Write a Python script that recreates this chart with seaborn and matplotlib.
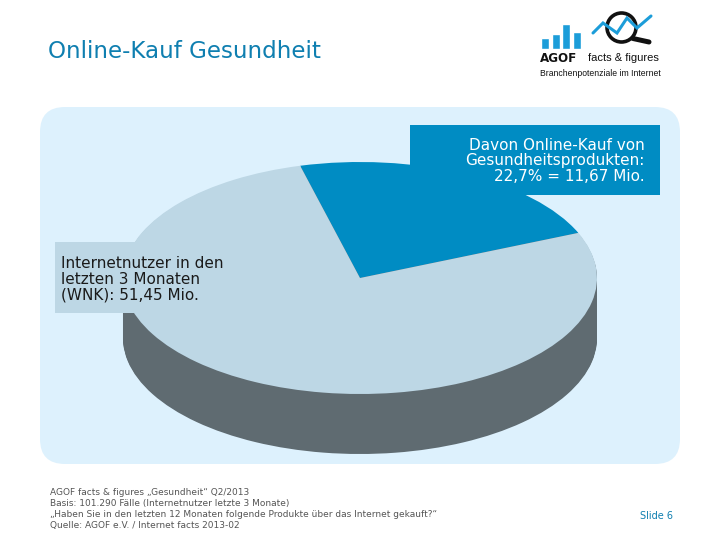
import matplotlib
matplotlib.use("Agg")
import matplotlib.pyplot as plt
from matplotlib.patches import FancyBboxPatch, Rectangle, Circle
import seaborn as sns

# --- data ---
slice_labels = ["Online-Kauf Gesundheit", "Andere Internetnutzer"]
slice_values = [22.7, 77.3]
logo_bars = [11, 15, 25, 17]
logo_line_x = [593, 603, 617, 627, 637, 651]
logo_line_y = [33, 23, 33, 18, 28, 16]

title = "Online-Kauf Gesundheit"
label_top = "Davon Online-Kauf von\nGesundheitsprodukten:\n22,7% = 11,67 Mio."
label_left = "Internetnutzer in den\nletzten 3 Monaten\n(WNK): 51,45 Mio."
footer = ("AGOF facts & figures „Gesundheit“ Q2/2013\n"
          "Basis: 101.290 Fälle (Internetnutzer letzte 3 Monate)\n"
          "„Haben Sie in den letzten 12 Monaten folgende Produkte über das Internet gekauft?“\n"
          "Quelle: AGOF e.V. / Internet facts 2013-02")
slide = "Slide 6"

# colours
PANEL = "#DDF1FD"
BLUE = "#008CC3"
PALE = "#BDD7E5"
DARK = "#5F6B71"
TITLE = "#0F7FB0"
GREY = "#555555"

sns.set_theme(style="white")
plt.rcParams["font.family"] = ["DejaVu Sans"]

W, H = 720, 540
fig = plt.figure(figsize=(7.2, 5.4), dpi=100, facecolor="white")


def px_axes(zorder):
    a = fig.add_axes([0, 0, 1, 1], zorder=zorder)
    a.set_xlim(0, W)
    a.set_ylim(H, 0)
    a.axis("off")
    a.patch.set_alpha(0)
    return a


# background: panel, title, footer, logo
bg = px_axes(0)
bg.add_patch(FancyBboxPatch((65, 132), 590, 307, boxstyle="round,pad=0,rounding_size=25",
                            mutation_aspect=1, fc=PANEL, ec="none", lw=0))
bg.add_patch(FancyBboxPatch((40 + 25, 107 + 25), 640 - 50, 357 - 50,
                            boxstyle="round,pad=25,rounding_size=25", fc=PANEL, ec="none", lw=0))
bg.text(48, 52, title, fontsize=16.6, color=TITLE, va="center", ha="left")
bg.text(50, 488, footer, fontsize=6.45, color=GREY, va="top", ha="left", linespacing=1.27)
bg.text(673, 516, slide, fontsize=7, color=TITLE, va="center", ha="right")

# logo
bg.plot(logo_line_x, logo_line_y, color="#1C9DD9", lw=2.2, solid_joinstyle="miter")
bg.add_patch(Circle((621.5, 27.5), 14.5, fc="none", ec="#111111", lw=2.6))
bg.plot([632, 650], [38, 42.5], color="white", lw=0)
bg.plot([633, 649], [38.5, 42], color="#111111", lw=3.6, solid_capstyle="round")
bg.text(540, 58, "AGOF", fontsize=8.6, fontweight="bold", color="#111111", va="center")
bg.text(588, 58, "facts & figures", fontsize=8, color="#111111", va="center",
        family="Liberation Sans")
bg.text(540.5, 73, "Branchenpotenziale im Internet", fontsize=6.2, color="#111111",
        va="center", family="Liberation Sans")

logo_ax = fig.add_axes([540 / W, 1 - 49 / H, 42 / W, 25 / H], zorder=1)
sns.barplot(x=list(range(len(logo_bars))), y=logo_bars, color="#1C9DD9", saturation=1,
            width=0.8, ax=logo_ax)
logo_ax.set_ylim(0, 25)
logo_ax.axis("off")

# pie: axes span the ellipse, unit circle gets squashed
cx, cy, rx, ry = 360, 278, 237, 116
depth_px = 60
pie_ax = fig.add_axes([(cx - rx) / W, 1 - (cy + ry) / H, 2 * rx / W, 2 * ry / H], zorder=2)
# side wall: dark copies stepping down
for step in range(depth_px, 0, -1):
    pie_ax.pie(slice_values, colors=[DARK, DARK], startangle=22.9, radius=1,
               center=(0, -step / ry), wedgeprops={"lw": 0}, frame=True)
pie_ax.pie(slice_values, colors=[BLUE, PALE], startangle=22.9, radius=1,
           center=(0, 0), wedgeprops={"lw": 0}, frame=True)
pie_ax.set_aspect("auto")
pie_ax.set_xlim(-1, 1)
pie_ax.set_ylim(-1, 1)
pie_ax.axis("off")
for p in pie_ax.patches:
    p.set_clip_on(False)

# label boxes on top
top = px_axes(3)
top.add_patch(Rectangle((410, 125), 250, 70, fc=BLUE, ec="none"))
top.add_patch(Rectangle((55, 242), 185, 71, fc=PALE, ec="none"))
top.text(645, 161, label_top, fontsize=11, color="white", va="center", ha="right",
         multialignment="right", linespacing=1.08)
top.text(61, 279, label_left, fontsize=11, color="#1A1A1A", va="center", ha="left",
         linespacing=1.08)

fig.savefig("out.png", dpi=100)
